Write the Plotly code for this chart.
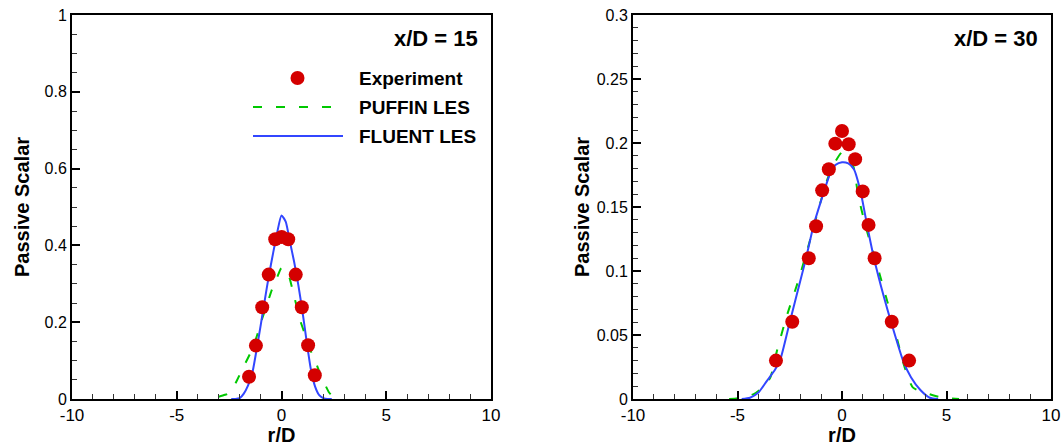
import plotly.graph_objects as go

# ---------------- data: x/D = 15 ----------------
exp15_r = [-1.55, -1.22, -0.92, -0.61, -0.30, 0.01, 0.32, 0.68, 0.97, 1.27, 1.59]
exp15_c = [0.058, 0.139, 0.239, 0.324, 0.416, 0.422, 0.416, 0.324, 0.239, 0.140, 0.062]

puffin15_r = [-3.0, -2.7, -2.45, -2.3, -2.14, -1.8, -1.5, -1.2, -0.95, -0.7, -0.47, -0.2,
              0.0, 0.28, 0.57, 0.89, 1.17, 1.4, 1.6, 1.8, 2.0, 2.27, 2.5]
puffin15_c = [0.006, 0.011, 0.016, 0.03, 0.047, 0.085, 0.118, 0.16, 0.205, 0.245, 0.283, 0.318,
              0.341, 0.331, 0.275, 0.205, 0.161, 0.125, 0.1, 0.072, 0.047, 0.017, 0.004]

fluent15_r = [-2.4, -2.2, -2.0, -1.8, -1.6, -1.4, -1.2, -1.0, -0.8, -0.6, -0.4, -0.2, 0.0,
              0.2, 0.4, 0.6, 0.8, 1.0, 1.2, 1.4, 1.6, 1.8, 2.0, 2.2, 2.4]
fluent15_c = [0.0, 0.0, 0.002, 0.014, 0.035, 0.066, 0.125, 0.19, 0.257, 0.322, 0.38, 0.435, 0.478,
              0.462, 0.41, 0.358, 0.298, 0.228, 0.15, 0.078, 0.033, 0.01, 0.002, 0.0, 0.0]

# ---------------- data: x/D = 30 ----------------
exp30_r = [-3.16, -2.38, -1.59, -1.24, -0.95, -0.63, -0.32, 0.0, 0.32, 0.63, 0.99, 1.27, 1.56, 2.38, 3.21]
exp30_c = [0.030, 0.0604, 0.110, 0.135, 0.163, 0.1795, 0.1995, 0.2094, 0.199, 0.1874, 0.1622,
           0.136, 0.110, 0.0604, 0.030]

puffin30_r = [-5.4, -4.8, -4.2, -3.8, -3.43, -3.11, -2.64, -2.08, -1.53, -1.13, -0.65, -0.3, 0.0,
              0.3, 0.54, 0.78, 1.18, 1.65, 2.29, 3.0, 3.4, 4.2, 4.8, 5.6]
puffin30_c = [0.0, 0.001, 0.004, 0.009, 0.0168, 0.0378, 0.065, 0.093, 0.124, 0.148, 0.174, 0.186, 0.1927,
              0.188, 0.182, 0.1585, 0.132, 0.106, 0.069, 0.0247, 0.0089, 0.0037, 0.001, 0.0]

fluent30_r = [-4.8, -4.4, -4.0, -3.6, -3.2, -2.95, -2.5, -2.0, -1.72, -1.37, -1.0, -0.57, -0.3, 0.0,
              0.3, 0.57, 0.89, 1.21, 1.53, 2.0, 2.35, 2.92, 3.3, 3.75, 4.2, 4.6]
fluent30_c = [0.0, 0.001, 0.005, 0.014, 0.023, 0.031, 0.06, 0.092, 0.11, 0.135, 0.155, 0.176, 0.183, 0.185,
              0.184, 0.1795, 0.162, 0.135, 0.11, 0.08, 0.06, 0.03, 0.017, 0.007, 0.001, 0.0]

x_ticks = [-10, -5, 0, 5, 10]
x_tick_labels = ["-10", "-5", "0", "5", "10"]
panel_titles = ["x/D = 15", "x/D = 30"]
legend_names = ["Experiment", "PUFFIN LES", "FLUENT LES"]

RED = "rgb(212,0,0)"
GREEN = "rgb(0,200,0)"
BLUE = "rgb(50,70,255)"
FONT = "Liberation Sans, Arial, sans-serif"
W, H = 1062, 446

fig = go.Figure()

panels = [
    ("x", "y", exp15_r, exp15_c, puffin15_r, puffin15_c, fluent15_r, fluent15_c),
    ("x2", "y2", exp30_r, exp30_c, puffin30_r, puffin30_c, fluent30_r, fluent30_c),
]
for xa, ya, er, ec, pr, pc, fr, fc in panels:
    fig.add_trace(go.Scatter(x=pr, y=pc, mode="lines", xaxis=xa, yaxis=ya, name=legend_names[1],
                             line=dict(color=GREEN, width=2, dash="9px,14px", shape="spline", smoothing=0.6),
                             showlegend=False))
    fig.add_trace(go.Scatter(x=fr, y=fc, mode="lines", xaxis=xa, yaxis=ya, name=legend_names[2],
                             line=dict(color=BLUE, width=2, shape="spline", smoothing=0.6),
                             showlegend=False))
    fig.add_trace(go.Scatter(x=er, y=ec, mode="markers", xaxis=xa, yaxis=ya, name=legend_names[0],
                             marker=dict(color=RED, size=14, line=dict(width=0)),
                             showlegend=False))

ydom = [47 / H, 431 / H]
common_x = dict(range=[-10, 10], tickvals=x_ticks, ticktext=x_tick_labels, ticks="inside", ticklen=8,
                tickwidth=2, tickcolor="black", showline=True, linewidth=2, linecolor="black", mirror=True,
                showgrid=False, zeroline=False, automargin=False,
                minor=dict(dtick=1, ticks="inside", ticklen=5, tickwidth=1, tickcolor="#333"),
                tickfont=dict(family=FONT, size=17, color="black"),
                title=dict(text="<b>r/D</b>", font=dict(family=FONT, size=20, color="black"), standoff=4))
common_y = dict(domain=ydom, ticks="inside", ticklen=8, tickwidth=2, tickcolor="black",
                showline=True, linewidth=2, linecolor="black", mirror=True,
                showgrid=False, zeroline=False, automargin=False,
                tickfont=dict(family=FONT, size=16, color="black"))

fig.update_layout(
    width=W, height=H, margin=dict(l=0, r=0, t=0, b=0),
    paper_bgcolor="white", plot_bgcolor="white", showlegend=False,
    xaxis=dict(domain=[72 / W, 491 / W], anchor="y", **common_x),
    xaxis2=dict(domain=[633 / W, 1051 / W], anchor="y2", **common_x),
    yaxis=dict(anchor="x", range=[0, 1], dtick=0.2,
               minor=dict(dtick=0.05, ticks="inside", ticklen=5, tickwidth=1, tickcolor="#333"),
               title=dict(text="<b>Passive Scalar</b>", font=dict(family=FONT, size=20, color="black"),
                          standoff=10),
               **common_y),
    yaxis2=dict(anchor="x2", range=[0, 0.3], dtick=0.05,
                minor=dict(dtick=0.01, ticks="inside", ticklen=5, tickwidth=1, tickcolor="#333"),
                title=dict(text="<b>Passive Scalar</b>", font=dict(family=FONT, size=20, color="black"),
                           standoff=2),
                **common_y),
)

# panel labels
for txt, xpx in [(panel_titles[0], 480), (panel_titles[1], 1040)]:
    fig.add_annotation(x=xpx / W, y=1 - 38 / H, xref="paper", yref="paper", text="<b>%s</b>" % txt,
                       showarrow=False, xanchor="right", yanchor="middle",
                       font=dict(family=FONT, size=22, color="black"))

# legend key (drawn in the left panel)
def px(xp):
    return xp / W

def py(yp):
    return 1 - yp / H

fig.add_shape(type="circle", xref="paper", yref="paper",
              x0=px(290.5), x1=px(304.5), y0=py(85), y1=py(71),
              fillcolor=RED, line=dict(width=0))
fig.add_shape(type="line", xref="paper", yref="paper", x0=px(253), x1=px(336), y0=py(107), y1=py(107),
              line=dict(color=GREEN, width=2, dash="9px,14px"))
fig.add_shape(type="line", xref="paper", yref="paper", x0=px(253), x1=px(343), y0=py(136), y1=py(136),
              line=dict(color=BLUE, width=2))
for name, ypx in zip(legend_names, [78, 107, 136]):
    fig.add_annotation(x=px(357), y=py(ypx), xref="paper", yref="paper", text="<b>%s</b>" % name,
                       showarrow=False, xanchor="left", yanchor="middle",
                       font=dict(family=FONT, size=19, color="black"))

fig.write_html("out.html")
